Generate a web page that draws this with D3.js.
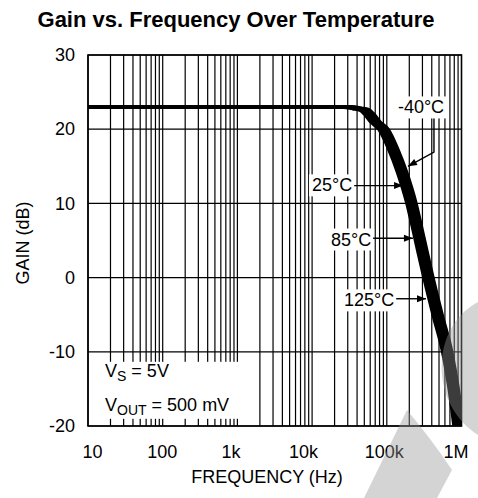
<!DOCTYPE html>
<html>
<head>
<meta charset="utf-8">
<script src="https://cdn.jsdelivr.net/npm/d3@7"></script>
<style>
  html, body { margin: 0; padding: 0; background: #fff; }
  svg { display: block; }
  text { font-family: "Liberation Sans", Arial, sans-serif; fill: #000; }
</style>
</head>
<body>
<svg id="chart" width="478" height="498"></svg>
<script>
// ---- data ----
const freqHz = [10, 100, 1e3, 1e4, 3e4, 40e3, 50e3, 58.5e3, 70e3, 90e3, 122e3, 160e3, 214e3, 274e3, 361e3, 484e3, 643e3, 781e3, 912e3];
const gainDb = [23, 23, 23, 23, 23, 22.8, 22.6, 22, 21.0, 20, 17.3, 14.2, 10, 5.3, 0, -5.2, -10, -14.8, -20];
// the four temperature curves overlap into one thick band; each is a small frequency shift of the centre
const tempLabels = ["-40°C", "25°C", "85°C", "125°C"];
const tempShiftDecades = [0.057, 0.019, -0.019, -0.057];
const xTickValues = [10, 100, 1e3, 1e4, 1e5, 1e6];
const xTickLabels = ["10", "100", "1k", "10k", "100k", "1M"];
const yTickValues = [-20, -10, 0, 10, 20, 30];
const yTickLabels = ["-20", "-10", "0", "10", "20", "30"];
// annotations (data units): label centre, arrow tip
const annLabelFreq = [287e3, 18.5e3, 33.2e3, 57.9e3];
const annLabelGain = [23.0, 12.5, 5.2, -3.0];
const annTipFreq = [192e3, 165e3, 224e3, 335e3];
const annTipGain = [15.0, 12.4, 5.3, -2.85];
const title = "Gain vs. Frequency Over Temperature";
const xTitle = "FREQUENCY (Hz)";
const yTitle = "GAIN (dB)";

// ---- layout ----
const svg = d3.select("#chart");
const L = 88, R = 461.5, T = 55, B = 426;
const x = d3.scaleLog().domain([10, 1e6]).range([L, R]);
const y = d3.scaleLinear().domain([-20, 30]).range([B, T]);

svg.append("rect").attr("width", 478).attr("height", 498).attr("fill", "#fff");

svg.append("text").attr("x", 236).attr("y", 27).attr("text-anchor", "middle")
  .style("font-size", "22px").style("font-weight", "bold").text(title);

// grid
const minor = [];
for (let d = 10; d < 1e6; d *= 10) for (let m = 1; m <= 9; m++) minor.push(d * m);
const grid = svg.append("g").attr("stroke", "#000").attr("stroke-width", 1.2);
grid.selectAll("line.v").data(minor).join("line")
  .attr("x1", d => x(d)).attr("x2", d => x(d)).attr("y1", T).attr("y2", B);
grid.selectAll("line.h").data(yTickValues).join("line")
  .attr("x1", L).attr("x2", R).attr("y1", d => y(d)).attr("y2", d => y(d));

// legend box (white) over grid
const legendG = svg.append("g");
legendG.append("rect").attr("x", L + 1).attr("y", y(-10) + 10).attr("width", 161).attr("height", 57).attr("fill", "#fff");
const t1 = legendG.append("text").attr("x", 105).attr("y", 377).style("font-size", "18px");
t1.append("tspan").text("V");
t1.append("tspan").attr("dy", 4).style("font-size", "14px").text("S");
t1.append("tspan").attr("dy", -4).text(" = 5V");
const t2 = legendG.append("text").attr("x", 105).attr("y", 411).style("font-size", "18px");
t2.append("tspan").text("V");
t2.append("tspan").attr("dy", 4).style("font-size", "14px").text("OUT");
t2.append("tspan").attr("dy", -4).text(" = 500 mV");

// frame
svg.append("rect").attr("x", L).attr("y", T).attr("width", R - L).attr("height", B - T)
  .attr("fill", "none").attr("stroke", "#000").attr("stroke-width", 1.6);

// curves
svg.append("clipPath").attr("id", "plotclip").append("rect")
  .attr("x", L).attr("y", T - 5).attr("width", R - L).attr("height", B - T + 5);
const pts = freqHz.map((f, i) => [f, gainDb[i]]);
const line = d3.line().x(d => x(d[0])).y(d => y(d[1])).curve(d3.curveMonotoneX);
svg.append("g").attr("clip-path", "url(#plotclip)")
  .selectAll("path").data(tempShiftDecades).join("path")
  .attr("d", s => line(pts.map(p => [p[0] * Math.pow(10, s), p[1]])))
  .attr("fill", "none").attr("stroke", "#000").attr("stroke-width", 4).attr("stroke-linejoin", "round");

// annotations
const ann = svg.append("g");
tempLabels.forEach((lab, i) => {
  const cx = x(annLabelFreq[i]), cy = y(annLabelGain[i]);
  const tx = x(annTipFreq[i]), ty = y(annTipGain[i]);
  const txt = ann.append("text").attr("x", cx).attr("y", cy + 6.5).attr("text-anchor", "middle")
    .style("font-size", "18px").text(lab);
  const bb = txt.node().getBBox();
  ann.insert("rect", "text").attr("x", bb.x - 3).attr("y", bb.y - 1).attr("width", bb.width + 6).attr("height", bb.height + 2).attr("fill", "#fff");
  let pathPts;
  if (i === 0) {
    const ex = x(428e3);
    pathPts = [[ex, bb.y + bb.height + 1], [ex, y(16.9)], [tx, ty]];
  } else {
    pathPts = [[bb.x + bb.width + 2, ty], [tx, ty]];
  }
  ann.append("path").attr("d", d3.line()(pathPts)).attr("fill", "none").attr("stroke", "#000").attr("stroke-width", 1.4);
  const a = pathPts[pathPts.length - 2], b = pathPts[pathPts.length - 1];
  const ang = Math.atan2(b[1] - a[1], b[0] - a[0]);
  const len = 9, wid = 3.5;
  const bx = b[0] - len * Math.cos(ang), by = b[1] - len * Math.sin(ang);
  const head = [[b[0], b[1]], [bx + wid * Math.sin(ang), by - wid * Math.cos(ang)], [bx - wid * Math.sin(ang), by + wid * Math.cos(ang)]];
  ann.append("path").attr("d", d3.line()(head) + "Z").attr("fill", "#000");
});

// axes
const xAxis = svg.append("g").attr("transform", `translate(0,${B + 16})`)
  .call(d3.axisBottom(x).tickValues(xTickValues).tickFormat((d, i) => xTickLabels[i]).tickSize(0));
xAxis.select(".domain").remove();
xAxis.selectAll("text").style("font-size", "18px").style("font-family", "Liberation Sans, Arial, sans-serif").attr("fill", "#000");
const nudge = [4, -1, -7, -9, -3, -6];
xAxis.selectAll(".tick text").attr("dx", (d, i) => nudge[i]);

const yAxis = svg.append("g").attr("transform", `translate(${L - 13},0)`)
  .call(d3.axisLeft(y).tickValues(yTickValues).tickFormat((d, i) => yTickLabels[i]).tickSize(0).tickPadding(0));
yAxis.select(".domain").remove();
yAxis.selectAll("text").style("font-size", "18px").style("font-family", "Liberation Sans, Arial, sans-serif").attr("fill", "#000");

svg.append("text").attr("x", 267).attr("y", 483).attr("text-anchor", "middle").style("font-size", "18px").text(xTitle);
svg.append("text").attr("transform", "translate(29,243) rotate(-90)").attr("text-anchor", "middle").style("font-size", "18px").text(yTitle);

// watermark
const wm = svg.append("g").attr("fill", "#969696").attr("opacity", 0.4);
wm.append("path").attr("d", "M478,302 C452,316 439,345 442,375 C445,405 462,425 478,435 Z");
wm.append("path").attr("d", "M364,498 L407,410 Q432,440 452,470 L437,498 Z");
</script>
</body>
</html>
